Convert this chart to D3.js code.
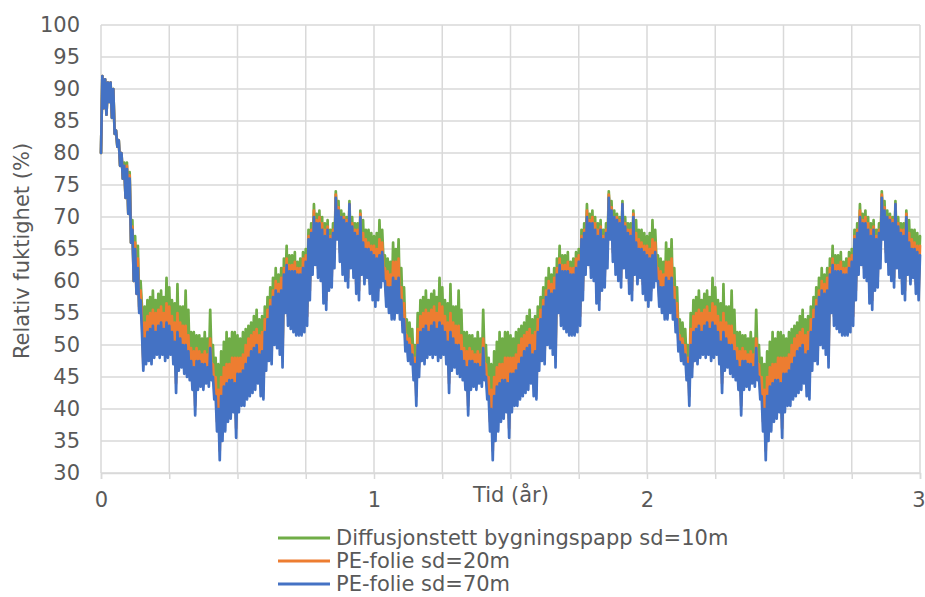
<!DOCTYPE html>
<html>
<head>
<meta charset="utf-8">
<script src="https://cdn.jsdelivr.net/npm/d3@7"></script>
<style>
  html, body { margin: 0; padding: 0; background: #ffffff; }
  svg { display: block; font-family: "DejaVu Sans", Verdana, sans-serif; }
</style>
</head>
<body>
<svg id="chart" width="925" height="597"></svg>
<script>
// Relative humidity behind three vapour barriers, simulated over three years.
// Every series is sampled at a fixed time step (in years) starting at t = 0.
const stepYears = 0.005;

const seriesNames = [
  "Diffusjonstett bygningspapp sd=10m",
  "PE-folie sd=20m",
  "PE-folie sd=70m"
];
const seriesColors = ["#70ad47", "#ed7d31", "#4472c4"];

const yTickValues = [30, 35, 40, 45, 50, 55, 60, 65, 70, 75, 80, 85, 90, 95, 100];
const xGridValues = [0, 0.25, 0.5, 0.75, 1, 1.25, 1.5, 1.75, 2, 2.25, 2.5, 2.75, 3];
const xTickLabels = ["0", "1", "2", "3"];
const xTitle = "Tid (år)";
const yTitle = "Relativ fuktighet (%)";

// Diffusjonstett bygningspapp sd=10m (%)
const bygningspapp10 = [
  80,92,87,91.5,86,91,88,91,85.5,90,83,83.5,81,82,78,80,76,78.5,73,78.5,70.5,77,66,69.5,60,67,59,65.5,56,60,56,48,56,50,
  57,50.5, 57.5,50, 58.5,51,
  57,51.5, 58,51, 58.5,51.5, 57.5,50.5, 60.5,51, 59,51.5, 57,50, 56.5,45.5, 59.5,49, 56,49.5,
  56,48.5, 58.5,48, 55.5,47.5, 52,46, 52,42, 51.5,46, 51.5,46.5, 51,46, 52,47, 51,46.5,
  55.5,47.5, 50,44.5, 48,39.5, 47,35, 49,38, 50.5,39.5, 52,41, 51,41.5, 52,42.5, 52,38.5,
  51.5,42.5, 51,43.5, 52,43.5, 52.5,44.5, 53,45, 53.5,45.5, 54.5,46, 55.5,47, 54,45, 54.5,44.5,
  56,49, 57.5,50.5, 59,50, 60.5,53, 62,52.5, 61,51.5, 62,49.5, 63.5,58, 65.5,56, 64,55.5,
  64,55, 64.5,54.5, 63,54.5, 63.5,54.5, 64.5,55, 65,56, 68,60, 69,64, 72,65.5, 70.5,63.5,
  71,63, 70,59.5, 69,58.5, 69.5,61.5, 68,62, 69,65, 74,69.5, 72.5,66, 71,64, 70.5,63,
  70,62, 72.5,65, 70,63.5, 69,61, 69,60, 71,64, 69.5,62.5, 68,63.5, 68,61, 67.5,60,
  67,59, 67.5,60, 69.5,62, 68,63, 64,59, 63.5,58, 63,57, 66,57, 65,58, 66.5,57,
  62,55, 59,52, 54,50.5, 53.5,50, 52.5,47.5, 50,43.5, 55,48, 57,50.5, 57.5,50, 58.5,51,
  57,51.5, 58,51, 58.5,51.5, 57.5,50.5, 60.5,51, 59,51.5, 57,50, 56.5,45.5, 59.5,49, 56,49.5,
  56,48.5, 58.5,48, 55.5,47.5, 52,46, 52,42, 51.5,46, 51.5,46.5, 51,46, 52,47, 51,46.5,
  55.5,47.5, 50,44.5, 48,39.5, 47,35, 49,38, 50.5,39.5, 52,41, 51,41.5, 52,42.5, 52,38.5,
  51.5,42.5, 51,43.5, 52,43.5, 52.5,44.5, 53,45, 53.5,45.5, 54.5,46, 55.5,47, 54,45, 54.5,44.5,
  56,49, 57.5,50.5, 59,50, 60.5,53, 62,52.5, 61,51.5, 62,49.5, 63.5,58, 65.5,56, 64,55.5,
  64,55, 64.5,54.5, 63,54.5, 63.5,54.5, 64.5,55, 65,56, 68,60, 69,64, 72,65.5, 70.5,63.5,
  71,63, 70,59.5, 69,58.5, 69.5,61.5, 68,62, 69,65, 74,69.5, 72.5,66, 71,64, 70.5,63,
  70,62, 72.5,65, 70,63.5, 69,61, 69,60, 71,64, 69.5,62.5, 68,63.5, 68,61, 67.5,60,
  67,59, 67.5,60, 69.5,62, 68,63, 64,59, 63.5,58, 63,57, 66,57, 65,58, 66.5,57,
  62,55, 59,52, 54,50.5, 53.5,50, 52.5,47.5, 50,43.5, 55,48, 57,50.5, 57.5,50, 58.5,51,
  57,51.5, 58,51, 58.5,51.5, 57.5,50.5, 60.5,51, 59,51.5, 57,50, 56.5,45.5, 59.5,49, 56,49.5,
  56,48.5, 58.5,48, 55.5,47.5, 52,46, 52,42, 51.5,46, 51.5,46.5, 51,46, 52,47, 51,46.5,
  55.5,47.5, 50,44.5, 48,39.5, 47,35, 49,38, 50.5,39.5, 52,41, 51,41.5, 52,42.5, 52,38.5,
  51.5,42.5, 51,43.5, 52,43.5, 52.5,44.5, 53,45, 53.5,45.5, 54.5,46, 55.5,47, 54,45, 54.5,44.5,
  56,49, 57.5,50.5, 59,50, 60.5,53, 62,52.5, 61,51.5, 62,49.5, 63.5,58, 65.5,56, 64,55.5,
  64,55, 64.5,54.5, 63,54.5, 63.5,54.5, 64.5,55, 65,56, 68,60, 69,64, 72,65.5, 70.5,63.5,
  71,63, 70,59.5, 69,58.5, 69.5,61.5, 68,62, 69,65, 74,69.5, 72.5,66, 71,64, 70.5,63,
  70,62, 72.5,65, 70,63.5, 69,61, 69,60, 71,64, 69.5,62.5, 68,63.5, 68,61, 67.5,60,
  67
];

// PE-folie sd=20m (%)
const peFolie20 = [
  80,92,87,91.5,86,91,88,91,85.5,90,83,83.5,81,82,78,80,76,78,73,78,70.5,76.5,66,68.5,60,66,58,63.5,55.5,58.5,54,47,53.5,48.5,
  54.5,49, 55,48.5, 55.5,49.5,
  55,50, 55.5,49.5, 56,50, 55,49, 56.5,49.5, 56,50, 54.5,48.5, 53.5,44, 55,47.5, 53.5,48,
  53,47, 53,46.5, 51.5,46, 49.5,44.5, 49,40.5, 49.5,44.5, 49,45, 48.5,44.5, 49,45.5, 48.5,45,
  51,46, 47,43, 45,38, 43,33.5, 45,36.5, 46.5,38, 47,39.5, 47,40, 48,41, 48,37,
  48,41, 48,42, 48.5,42, 50,43, 51,43.5, 51.5,44, 52,44.5, 52.5,45.5, 51.5,43.5, 52,43,
  54,47.5, 55.5,49, 57,48.5, 58.5,51.5, 60,51, 59.5,50, 60.5,48, 62,56.5, 63.5,54.5, 62.5,54,
  62.5,53.5, 63,53, 62,53, 62,53, 63.5,53.5, 64,54.5, 67,58.5, 68,62.5, 71,64, 69.5,62,
  70,61.5, 69,58, 68,57, 68.5,60, 67,60.5, 68,63.5, 73.5,68, 71.5,64.5, 70,62.5, 70,61.5,
  69.5,60.5, 72,63.5, 69,62, 68,59.5, 68,58.5, 70.5,62.5, 67.5,61, 66.5,62, 66,59.5, 65.5,58.5,
  65.5,57.5, 65,58.5, 66.5,60.5, 66,61.5, 62,57.5, 61.5,56.5, 61,55.5, 63,55.5, 63,56.5, 63.5,55.5,
  59,53.5, 56.5,50.5, 51.5,49, 51,48.5, 50,46, 48,42, 52.5,46.5, 54.5,49, 55,48.5, 55.5,49.5,
  55,50, 55.5,49.5, 56,50, 55,49, 56.5,49.5, 56,50, 54.5,48.5, 53.5,44, 55,47.5, 53.5,48,
  53,47, 53,46.5, 51.5,46, 49.5,44.5, 49,40.5, 49.5,44.5, 49,45, 48.5,44.5, 49,45.5, 48.5,45,
  51,46, 47,43, 45,38, 43,33.5, 45,36.5, 46.5,38, 47,39.5, 47,40, 48,41, 48,37,
  48,41, 48,42, 48.5,42, 50,43, 51,43.5, 51.5,44, 52,44.5, 52.5,45.5, 51.5,43.5, 52,43,
  54,47.5, 55.5,49, 57,48.5, 58.5,51.5, 60,51, 59.5,50, 60.5,48, 62,56.5, 63.5,54.5, 62.5,54,
  62.5,53.5, 63,53, 62,53, 62,53, 63.5,53.5, 64,54.5, 67,58.5, 68,62.5, 71,64, 69.5,62,
  70,61.5, 69,58, 68,57, 68.5,60, 67,60.5, 68,63.5, 73.5,68, 71.5,64.5, 70,62.5, 70,61.5,
  69.5,60.5, 72,63.5, 69,62, 68,59.5, 68,58.5, 70.5,62.5, 67.5,61, 66.5,62, 66,59.5, 65.5,58.5,
  65.5,57.5, 65,58.5, 66.5,60.5, 66,61.5, 62,57.5, 61.5,56.5, 61,55.5, 63,55.5, 63,56.5, 63.5,55.5,
  59,53.5, 56.5,50.5, 51.5,49, 51,48.5, 50,46, 48,42, 52.5,46.5, 54.5,49, 55,48.5, 55.5,49.5,
  55,50, 55.5,49.5, 56,50, 55,49, 56.5,49.5, 56,50, 54.5,48.5, 53.5,44, 55,47.5, 53.5,48,
  53,47, 53,46.5, 51.5,46, 49.5,44.5, 49,40.5, 49.5,44.5, 49,45, 48.5,44.5, 49,45.5, 48.5,45,
  51,46, 47,43, 45,38, 43,33.5, 45,36.5, 46.5,38, 47,39.5, 47,40, 48,41, 48,37,
  48,41, 48,42, 48.5,42, 50,43, 51,43.5, 51.5,44, 52,44.5, 52.5,45.5, 51.5,43.5, 52,43,
  54,47.5, 55.5,49, 57,48.5, 58.5,51.5, 60,51, 59.5,50, 60.5,48, 62,56.5, 63.5,54.5, 62.5,54,
  62.5,53.5, 63,53, 62,53, 62,53, 63.5,53.5, 64,54.5, 67,58.5, 68,62.5, 71,64, 69.5,62,
  70,61.5, 69,58, 68,57, 68.5,60, 67,60.5, 68,63.5, 73.5,68, 71.5,64.5, 70,62.5, 70,61.5,
  69.5,60.5, 72,63.5, 69,62, 68,59.5, 68,58.5, 70.5,62.5, 67.5,61, 66.5,62, 66,59.5, 65.5,58.5,
  65.5
];

// PE-folie sd=70m (%)
const peFolie70 = [
  80,92,87,91.5,86,91,88,91,85.5,90,83,83.5,81,82,78,80,76,78,73,77.5,70.5,76,66,68,60,65,58,62,55,57,52,46,51,47,
  52,47.5, 52.5,47, 53,48,
  52,48.5, 53,48, 53.5,48.5, 52.5,47.5, 53.5,48, 53,48.5, 52,47, 50.5,42.5, 52,46, 51,46.5,
  50,45.5, 50,45, 49,44.5, 47.5,43, 46.5,39, 47.5,43, 47.5,43.5, 47,43, 47,44, 46.5,43.5,
  49.5,44.5, 45,41.5, 42,36.5, 40,32, 42,35, 43.5,36.5, 44,38, 44.5,38.5, 44.5,39.5, 44,35.5,
  45.5,39.5, 45.5,40.5, 46,40.5, 47,41.5, 48,42, 49,42.5, 49.5,43, 50,44, 48.5,42, 49,41.5,
  52,46, 54,47.5, 56,47, 57.5,50, 58.5,49.5, 58,48.5, 58.5,46.5, 61,55, 62.5,53, 61.5,52.5,
  61.5,52, 61.5,51.5, 61,51.5, 61,51.5, 62,52, 63,53, 66.5,57, 67.5,61, 70,62.5, 69,60.5,
  69,60, 68,56.5, 67,55.5, 68,58.5, 66.5,59, 67.5,62, 73,66.5, 71,63, 70,61, 69.5,60,
  69,59, 72,62, 68.5,60.5, 67.5,58, 67,57, 70,61, 66,59.5, 65,60.5, 65,58, 64.5,57,
  64,56, 63.5,57, 64,59, 64.5,60, 60,56, 59,55, 59,54, 60.5,54, 60,55, 60.5,54,
  57,52, 54,49, 50.5,47.5, 50,47, 48.5,44.5, 47,40.5, 50,45, 52,47.5, 52.5,47, 53,48,
  52,48.5, 53,48, 53.5,48.5, 52.5,47.5, 53.5,48, 53,48.5, 52,47, 50.5,42.5, 52,46, 51,46.5,
  50,45.5, 50,45, 49,44.5, 47.5,43, 46.5,39, 47.5,43, 47.5,43.5, 47,43, 47,44, 46.5,43.5,
  49.5,44.5, 45,41.5, 42,36.5, 40,32, 42,35, 43.5,36.5, 44,38, 44.5,38.5, 44.5,39.5, 44,35.5,
  45.5,39.5, 45.5,40.5, 46,40.5, 47,41.5, 48,42, 49,42.5, 49.5,43, 50,44, 48.5,42, 49,41.5,
  52,46, 54,47.5, 56,47, 57.5,50, 58.5,49.5, 58,48.5, 58.5,46.5, 61,55, 62.5,53, 61.5,52.5,
  61.5,52, 61.5,51.5, 61,51.5, 61,51.5, 62,52, 63,53, 66.5,57, 67.5,61, 70,62.5, 69,60.5,
  69,60, 68,56.5, 67,55.5, 68,58.5, 66.5,59, 67.5,62, 73,66.5, 71,63, 70,61, 69.5,60,
  69,59, 72,62, 68.5,60.5, 67.5,58, 67,57, 70,61, 66,59.5, 65,60.5, 65,58, 64.5,57,
  64,56, 63.5,57, 64,59, 64.5,60, 60,56, 59,55, 59,54, 60.5,54, 60,55, 60.5,54,
  57,52, 54,49, 50.5,47.5, 50,47, 48.5,44.5, 47,40.5, 50,45, 52,47.5, 52.5,47, 53,48,
  52,48.5, 53,48, 53.5,48.5, 52.5,47.5, 53.5,48, 53,48.5, 52,47, 50.5,42.5, 52,46, 51,46.5,
  50,45.5, 50,45, 49,44.5, 47.5,43, 46.5,39, 47.5,43, 47.5,43.5, 47,43, 47,44, 46.5,43.5,
  49.5,44.5, 45,41.5, 42,36.5, 40,32, 42,35, 43.5,36.5, 44,38, 44.5,38.5, 44.5,39.5, 44,35.5,
  45.5,39.5, 45.5,40.5, 46,40.5, 47,41.5, 48,42, 49,42.5, 49.5,43, 50,44, 48.5,42, 49,41.5,
  52,46, 54,47.5, 56,47, 57.5,50, 58.5,49.5, 58,48.5, 58.5,46.5, 61,55, 62.5,53, 61.5,52.5,
  61.5,52, 61.5,51.5, 61,51.5, 61,51.5, 62,52, 63,53, 66.5,57, 67.5,61, 70,62.5, 69,60.5,
  69,60, 68,56.5, 67,55.5, 68,58.5, 66.5,59, 67.5,62, 73,66.5, 71,63, 70,61, 69.5,60,
  69,59, 72,62, 68.5,60.5, 67.5,58, 67,57, 70,61, 66,59.5, 65,60.5, 65,58, 64.5,57,
  64
];

const seriesValues = [bygningspapp10, peFolie20, peFolie70];

// ---- layout ----
const svg = d3.select("#chart");
const plot = { left: 101, right: 920, top: 25, bottom: 473 };
const textColor = "#595959";
const gridColor = "#d9d9d9";
const fontSize = 21;
const fontFamily = '"DejaVu Sans", Verdana, sans-serif';

const x = d3.scaleLinear().domain([0, 3]).range([plot.left, plot.right]);
const y = d3.scaleLinear().domain([30, 100]).range([plot.bottom, plot.top]);

// horizontal gridlines
svg.append("g")
  .selectAll("line")
  .data(yTickValues)
  .join("line")
  .attr("x1", plot.left).attr("x2", plot.right)
  .attr("y1", d => y(d)).attr("y2", d => y(d))
  .attr("stroke", gridColor).attr("stroke-width", 1.5);

// vertical gridlines every quarter year
svg.append("g")
  .selectAll("line")
  .data(xGridValues)
  .join("line")
  .attr("x1", d => x(d)).attr("x2", d => x(d))
  .attr("y1", plot.top).attr("y2", plot.bottom)
  .attr("stroke", gridColor).attr("stroke-width", 1.5);

// y axis labels
const yAxis = svg.append("g")
  .attr("transform", `translate(${plot.left},0)`)
  .call(d3.axisLeft(y).tickValues(yTickValues).tickSize(0).tickPadding(21));
yAxis.select(".domain").remove();
yAxis.selectAll("text")
  .attr("fill", textColor)
  .style("font-size", fontSize + "px")
  .style("font-family", fontFamily);

// x axis with quarter-year ticks, labels on whole years
const xAxis = svg.append("g")
  .attr("transform", `translate(0,${plot.bottom})`)
  .call(d3.axisBottom(x)
    .tickValues(xGridValues)
    .tickSize(6)
    .tickFormat(d => Number.isInteger(d) ? xTickLabels[d] : ""));
xAxis.select(".domain").attr("stroke", gridColor).attr("stroke-width", 1.5);
xAxis.selectAll(".tick line").attr("stroke", gridColor).attr("stroke-width", 1.5);
xAxis.selectAll("text")
  .attr("y", 19)
  .attr("fill", textColor)
  .style("font-size", fontSize + "px")
  .style("font-family", fontFamily);
// keep the last whole-year label inside the frame
xAxis.selectAll(".tick").filter(d => d === 3).select("text").attr("text-anchor", "end").attr("x", 5);

// series lines (blue drawn last, on top)
const line = d3.line()
  .x((d, i) => x(i * stepYears))
  .y(d => y(d));

svg.append("g")
  .selectAll("path")
  .data(seriesValues)
  .join("path")
  .attr("d", d => line(d))
  .attr("fill", "none")
  .attr("stroke", (d, i) => seriesColors[i])
  .attr("stroke-width", 2.7)
  .attr("stroke-linejoin", "round")
  .attr("stroke-linecap", "round");

// axis titles
svg.append("text")
  .attr("x", 511).attr("y", 495)
  .attr("text-anchor", "middle")
  .attr("dominant-baseline", "central")
  .attr("fill", textColor)
  .style("font-size", fontSize + "px")
  .text(xTitle);

svg.append("text")
  .attr("transform", "translate(22,251) rotate(-90)")
  .attr("text-anchor", "middle")
  .attr("dominant-baseline", "central")
  .attr("fill", textColor)
  .style("font-size", fontSize + "px")
  .text(yTitle);

// legend
const legend = svg.append("g");
const legendY = [538, 561, 584];
seriesNames.forEach((name, i) => {
  legend.append("line")
    .attr("x1", 278).attr("x2", 330)
    .attr("y1", legendY[i]).attr("y2", legendY[i])
    .attr("stroke", seriesColors[i]).attr("stroke-width", 3);
  legend.append("text")
    .attr("x", 336).attr("y", legendY[i])
    .attr("dominant-baseline", "central")
    .attr("fill", textColor)
    .style("font-size", fontSize + "px")
    .text(name);
});
</script>
</body>
</html>
